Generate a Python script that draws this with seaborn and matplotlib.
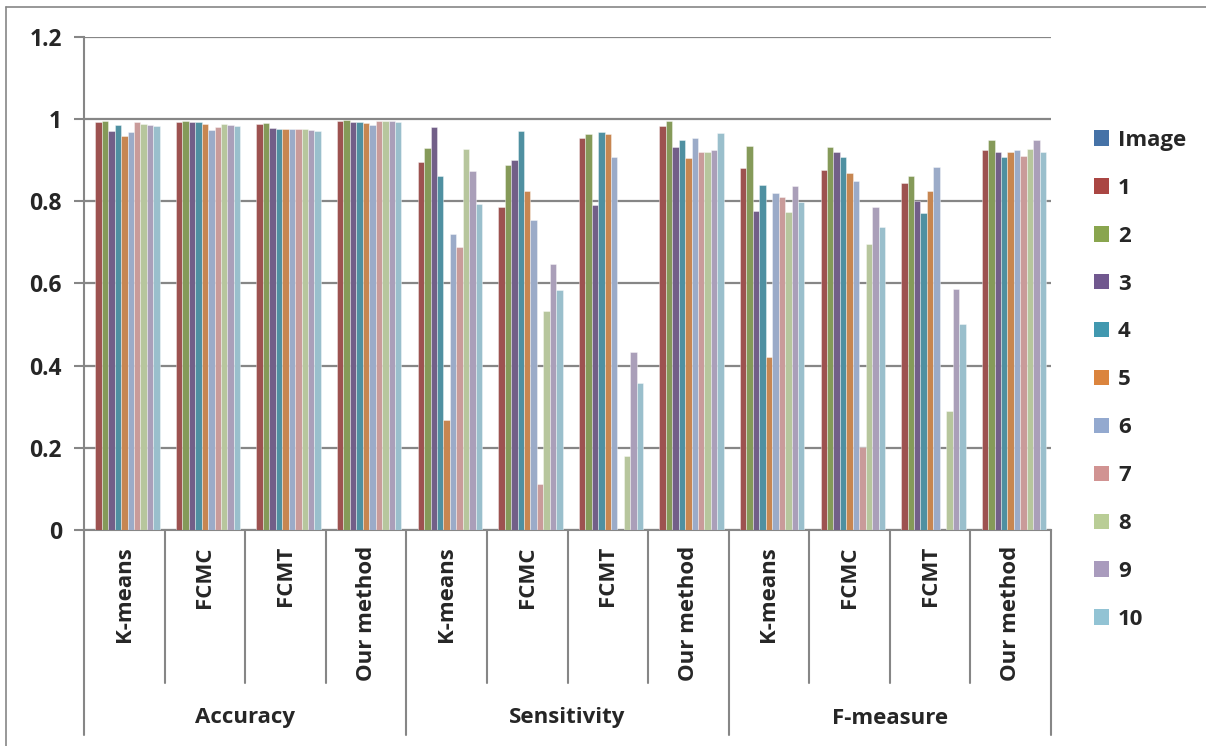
import matplotlib
matplotlib.use("Agg")
import matplotlib.pyplot as plt
import matplotlib.transforms as mtransforms
from matplotlib.lines import Line2D
import numpy as np
import pandas as pd
import seaborn as sns

# ---- data -------------------------------------------------------------
metrics = ["Accuracy", "Sensitivity", "F-measure"]
methods = ["K-means", "FCMC", "FCMT", "Our method"]
series = ["Image", "1", "2", "3", "4", "5", "6", "7", "8", "9", "10"]

# one row per image (1..10), one column per metric/method group
accuracy = {
    "K-means":    [0.993, 0.996, 0.971, 0.987, 0.960, 0.968, 0.993, 0.988, 0.985, 0.984],
    "FCMC":       [0.993, 0.996, 0.992, 0.992, 0.988, 0.973, 0.980, 0.988, 0.985, 0.983],
    "FCMT":       [0.989, 0.990, 0.979, 0.976, 0.977, 0.977, 0.977, 0.977, 0.973, 0.971],
    "Our method": [0.995, 0.997, 0.994, 0.993, 0.990, 0.985, 0.995, 0.995, 0.995, 0.993],
}
sensitivity = {
    "K-means":    [0.895, 0.931, 0.980, 0.861, 0.267, 0.720, 0.689, 0.928, 0.873, 0.793],
    "FCMC":       [0.785, 0.888, 0.900, 0.971, 0.824, 0.754, 0.112, 0.533, 0.647, 0.584],
    "FCMT":       [0.954, 0.963, 0.792, 0.968, 0.963, 0.907, 0.0, 0.181, 0.433, 0.359],
    "Our method": [0.984, 0.996, 0.933, 0.950, 0.906, 0.953, 0.920, 0.920, 0.926, 0.967],
}
f_measure = {
    "K-means":    [0.882, 0.934, 0.777, 0.839, 0.422, 0.820, 0.811, 0.773, 0.837, 0.798],
    "FCMC":       [0.876, 0.932, 0.919, 0.907, 0.870, 0.849, 0.203, 0.695, 0.785, 0.737],
    "FCMT":       [0.845, 0.861, 0.800, 0.772, 0.824, 0.884, 0.0, 0.289, 0.586, 0.502],
    "Our method": [0.924, 0.950, 0.920, 0.907, 0.920, 0.926, 0.910, 0.928, 0.950, 0.920],
}
image_series = [0.0] * 12  # the "Image" series carries no bar height

colors = ["#4572A7", "#AA4643", "#89A54E", "#71588F", "#4198AF", "#DB843D",
          "#93A9CF", "#D19392", "#B9CD96", "#A99BBD", "#92C3D4"]

# ---- long-form table --------------------------------------------------
rows = []
groups = []
for metric, table in zip(metrics, [accuracy, sensitivity, f_measure]):
    for method in methods:
        gid = f"{metric}|{method}"
        groups.append(gid)
        rows.append((gid, "Image", image_series[len(groups) - 1]))
        for s, v in zip(series[1:], table[method]):
            rows.append((gid, s, v))
df = pd.DataFrame(rows, columns=["group", "series", "value"])

# ---- figure -----------------------------------------------------------
sns.set_style("white")
plt.rcParams["font.family"] = ["Open Sans", "DejaVu Sans"]
plt.rcParams["font.weight"] = "bold"
FS = 16

W, H = 1206, 746
fig = plt.figure(figsize=(W / 100, H / 100), dpi=100)
ax = fig.add_axes([84 / W, (H - 530) / H, (1051 - 84) / W, (530 - 37) / H])

grid_c = "#868686"
sns.barplot(data=df, x="group", y="value", hue="series", order=groups,
            hue_order=series, palette=colors, width=0.88, ax=ax,
            errorbar=None, legend=False, edgecolor=(1, 1, 1, 0.45),
            linewidth=0.6, zorder=3)
# drop the empty zero-height bars so no outline sliver is left on the axis
for p in ax.patches:
    if p.get_height() == 0:
        p.set_visible(False)

ax.set_ylim(0, 1.2)
ax.set_xlim(-0.5, len(groups) - 0.5)
ax.set_yticks(np.arange(0, 1.21, 0.2))
ax.set_yticklabels(["0", "0.2", "0.4", "0.6", "0.8", "1", "1.2"])
ax.yaxis.grid(True, color=grid_c, linewidth=1.6, zorder=0)
ax.set_axisbelow(True)
ax.tick_params(axis="y", length=7, width=1.5, color=grid_c, pad=9,
               labelsize=FS + 0.5, direction="out", left=True)
for lbl in ax.get_yticklabels():
    lbl.set_fontweight("bold")
ax.set_xticks([])
ax.set_xlabel("")
ax.set_ylabel("")
for side in ["top", "right"]:
    ax.spines[side].set_visible(False)
ax.spines["left"].set_color(grid_c)
ax.spines["left"].set_linewidth(1.5)
ax.spines["bottom"].set_color(grid_c)
ax.spines["bottom"].set_linewidth(1.5)

# multi-level category axis
ax_h = 530 - 37
trans = mtransforms.blended_transform_factory(ax.transData, ax.transAxes)
n_m = len(methods)
for i in range(len(groups) + 1):
    outer = (i % n_m == 0)
    y_end = -(735 - 530) / ax_h if outer else -(683 - 530) / ax_h
    ax.add_line(Line2D([i - 0.5, i - 0.5], [0, y_end], transform=trans,
                       color=grid_c, linewidth=1.5, clip_on=False))
for i, gid in enumerate(groups):
    method = gid.split("|")[1]
    ax.text(i, -(546 - 530) / ax_h, method, transform=trans, rotation=90,
            ha="center", va="top", fontsize=FS, fontweight="bold")
for j, metric in enumerate(metrics):
    xc = j * n_m + (n_m - 1) / 2
    ax.text(xc, -(718 - 530) / ax_h, metric, transform=trans,
            ha="center", va="center", fontsize=FS, fontweight="bold")

# legend
handles = [plt.Rectangle((0, 0), 1, 1, facecolor=c, edgecolor="none") for c in colors]
leg = fig.legend(handles, series, loc="upper left",
                 bbox_to_anchor=(1085 / W, 1 - 121 / H), frameon=False,
                 prop={"size": FS, "weight": "bold"}, handlelength=0.68,
                 handleheight=0.68, handletextpad=0.4, labelspacing=1.21,
                 borderaxespad=0)

# chart-area border (top and left edges)
fig.add_artist(Line2D([6 / W, 1], [1 - 7 / H, 1 - 7 / H], transform=fig.transFigure,
                      color=grid_c, linewidth=1.2))
fig.add_artist(Line2D([6 / W, 6 / W], [0, 1 - 7 / H], transform=fig.transFigure,
                      color=grid_c, linewidth=1.2))

fig.savefig("out.png", dpi=100, facecolor="white")
